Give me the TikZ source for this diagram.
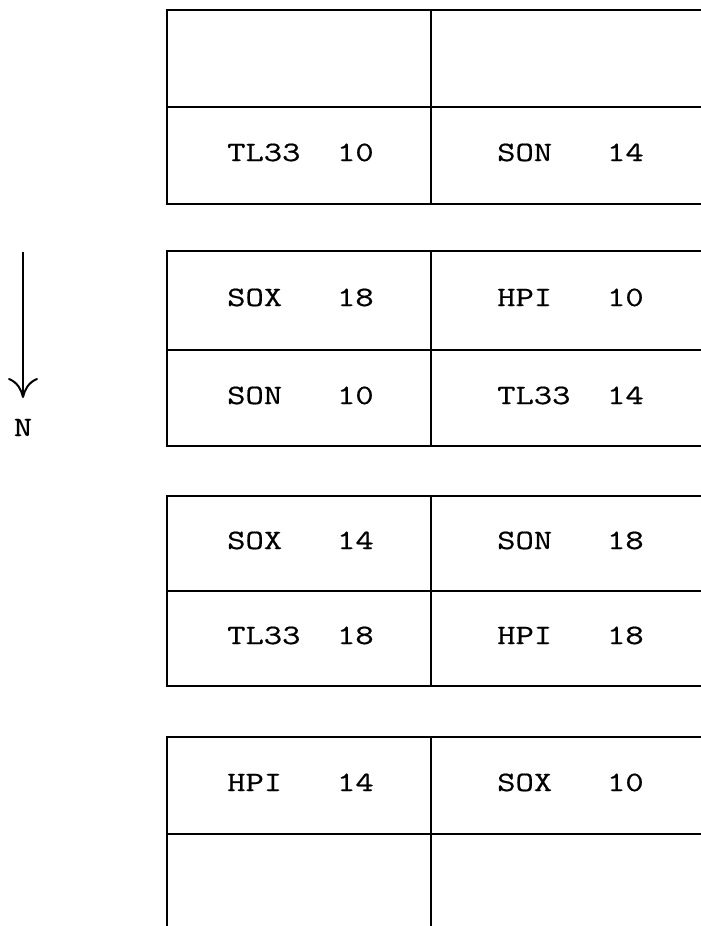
\documentclass[tikz,border=0pt]{standalone}
\usepackage{fontspec}
\setmonofont{Latin Modern Mono}[FakeStretch=1.27,FakeBold=0.6]
\usetikzlibrary{arrows.meta}
\tikzset{
  grid/.style={line width=2pt, line cap=rect},
  cell/.style={font=\ttfamily\fontsize{28}{32}\selectfont, inner sep=0pt, anchor=base west},
  lbl/.style={font=\ttfamily\fontsize{28}{32}\selectfont, inner sep=0pt, anchor=base},
  north arrow/.style={line width=2pt, -{Computer Modern Rightarrow[length=20pt,width=30pt,line width=2pt]}}
}
\begin{document}
\begin{tikzpicture}[x=1pt,y=-1pt]
\useasboundingbox (0,0) rectangle (701,926);
% block 1
\draw[grid] (167,10) -- (701,10) (167,107) -- (701,107) (167,204) -- (701,204)
  (167,10) -- (167,204) (431,10) -- (431,204);
% block 2
\draw[grid] (167,251) -- (701,251) (167,350) -- (701,350) (167,446) -- (701,446)
  (167,251) -- (167,446) (431,251) -- (431,446);
% block 3
\draw[grid] (167,496) -- (701,496) (167,591) -- (701,591) (167,686) -- (701,686)
  (167,496) -- (167,686) (431,496) -- (431,686);
% block 4
\draw[grid] (167,737) -- (701,737) (167,834) -- (701,834)
  (167,737) -- (167,925) (431,737) -- (431,925);
% texts
\node[cell] (a1) at (227,161) {TL33\ \ 10};
\node[cell] (b1) at (497,161) {SON\ \ \ 14};
\node[cell] (a2) at (227,306) {SOX\ \ \ 18};
\node[cell] (b2) at (497,306) {HPI\ \ \ 10};
\node[cell] (a3) at (227,404) {SON\ \ \ 10};
\node[cell] (b3) at (497,404) {TL33\ \ 14};
\node[cell] (a4) at (227,549) {SOX\ \ \ 14};
\node[cell] (b4) at (497,549) {SON\ \ \ 18};
\node[cell] (a5) at (227,644) {TL33\ \ 18};
\node[cell] (b5) at (497,644) {HPI\ \ \ 18};
\node[cell] (a6) at (227,791) {HPI\ \ \ 14};
\node[cell] (b6) at (497,791) {SOX\ \ \ 10};
% north arrow
\coordinate (arrtop) at (23,252);
\coordinate (arrtip) at (23,398);
\draw[north arrow] (arrtop) -- (arrtip);
\node[lbl] (n) at (23,436) {N};
\end{tikzpicture}
\end{document}
